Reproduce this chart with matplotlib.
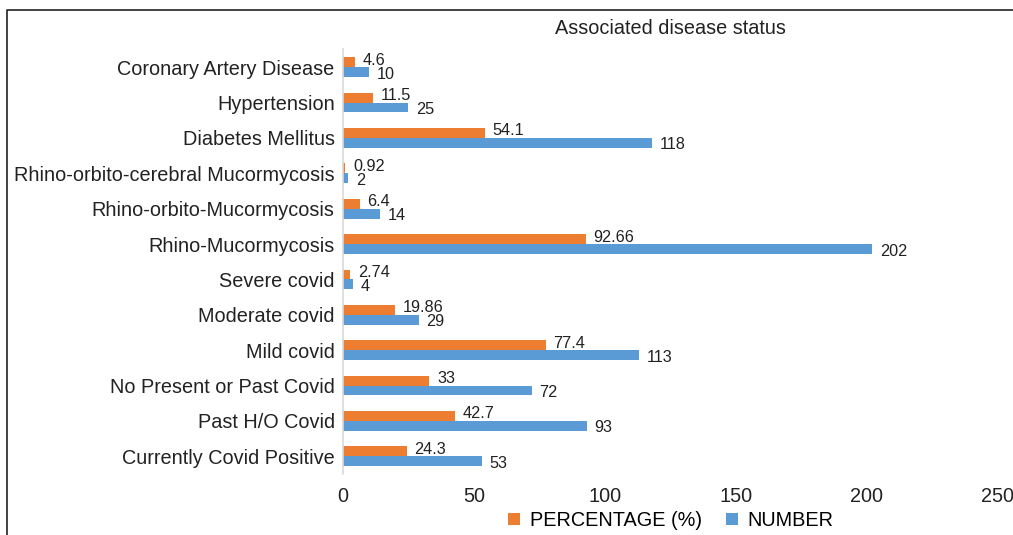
import matplotlib.pyplot as plt
from matplotlib.lines import Line2D
import numpy as np

plt.rcParams['font.family'] = ['Liberation Sans', 'DejaVu Sans']

categories = ['Coronary Artery Disease', 'Hypertension', 'Diabetes Mellitus',
              'Rhino-orbito-cerebral Mucormycosis', 'Rhino-orbito-Mucormycosis',
              'Rhino-Mucormycosis', 'Severe covid', 'Moderate covid', 'Mild covid',
              'No Present or Past Covid', 'Past H/O Covid', 'Currently Covid Positive']
percentage = [4.6, 11.5, 54.1, 0.92, 6.4, 92.66, 2.74, 19.86, 77.4, 33, 42.7, 24.3]
number = [10, 25, 118, 2, 14, 202, 4, 29, 113, 72, 93, 53]
pct_labels = ['4.6', '11.5', '54.1', '0.92', '6.4', '92.66', '2.74', '19.86', '77.4', '33', '42.7', '24.3']
num_labels = [str(v) for v in number]

orange = '#ED7D31'
blue = '#5B9BD5'

fig = plt.figure(figsize=(10.13, 5.35), dpi=100)
ax = fig.add_axes([0.3386, 0.114, 0.6464, 0.7935])

y = np.arange(len(categories))
h = 0.28
b1 = ax.barh(y - h / 2, percentage, height=h, color=orange, label='PERCENTAGE (%)')
b2 = ax.barh(y + h / 2, number, height=h, color=blue, label='NUMBER')

# data labels: percentage a bit above its bar, number a bit below
for bars, labs, dy in ((b1, pct_labels, 1.5), (b2, num_labels, -1.5)):
    for bar, lab in zip(bars, labs):
        ax.annotate(lab, (bar.get_width(), bar.get_y() + bar.get_height() / 2),
                    xytext=(5.5, dy), textcoords='offset points',
                    ha='left', va='center', fontsize=11.7, color='#222222')

ax.set_xlim(0, 250)
ax.set_ylim(len(categories) - 0.5, -0.5)
ax.set_xticks([0, 50, 100, 150, 200, 250])
ax.set_yticks(y)
ax.set_yticklabels(categories)
ax.tick_params(axis='both', length=0, labelsize=14.3, colors='#222222')
ax.tick_params(axis='y', pad=6)
ax.tick_params(axis='x', pad=9)
for s in ['top', 'right', 'bottom']:
    ax.spines[s].set_visible(False)
ax.spines['left'].set_color('#D9D9D9')
ax.spines['left'].set_linewidth(1.2)

fig.text(0.662, 0.947, 'Associated disease status', ha='center', va='center',
         fontsize=14.3, color='#222222')

fig.legend(handles=[b1, b2], loc='center', bbox_to_anchor=(0.662, 0.027),
           ncol=2, frameon=False, fontsize=14.3, handlelength=0.6, handleheight=0.6,
           columnspacing=1.2, handletextpad=0.5)

# frame around the figure (left and top only)
fy = 1 - 10 / 535
fx = 7 / 1013
fig.add_artist(Line2D([fx, fx, 1], [0, fy, fy], transform=fig.transFigure,
                      color='#222222', lw=1.2))

fig.savefig('out.png', dpi=100)
